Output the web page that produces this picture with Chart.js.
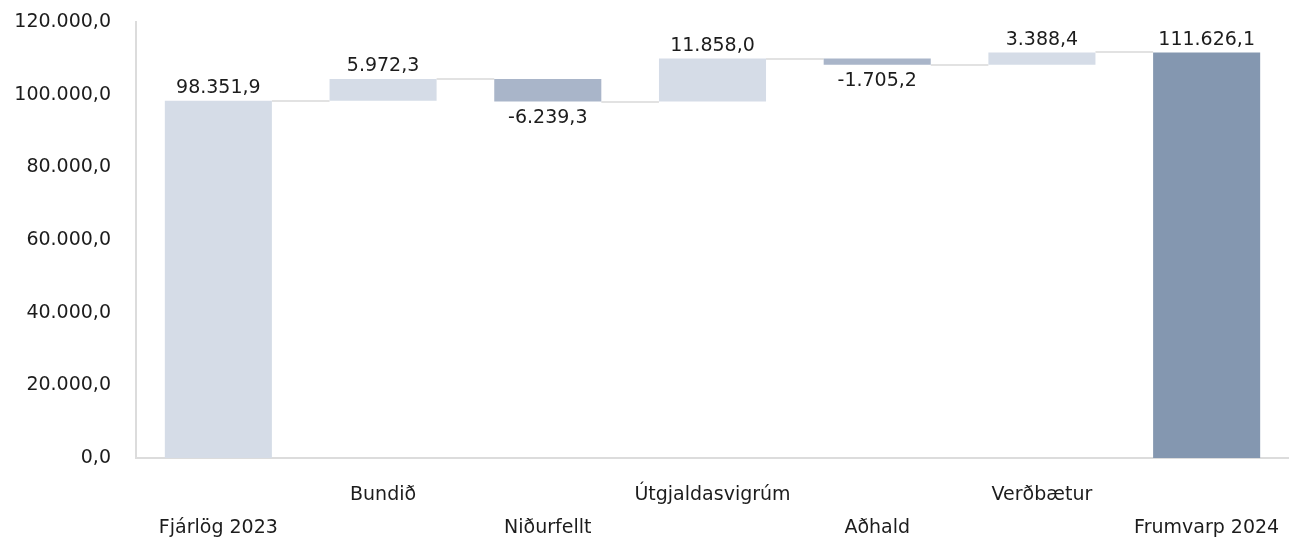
<!DOCTYPE html>
<html>
<head>
<meta charset="utf-8">
<script src="https://cdn.jsdelivr.net/npm/chart.js@4"></script>
<style>
  body { margin: 0; background: #fff; }
  #wrap { width: 1289px; height: 540px; }
</style>
</head>
<body>
<div id="wrap"><canvas id="chart"></canvas></div>
<script>
// categories and values (millj. kr.)
const categories = ['Fjárlög 2023', 'Bundið', 'Niðurfellt', 'Útgjaldasvigrúm', 'Aðhald', 'Verðbætur', 'Frumvarp 2024'];
const startTotal = 98351.9;
const changes = [5972.3, -6239.3, 11858.0, -1705.2, 3388.4];
const endTotal = 111626.1;
const yTicks = [0, 20000, 40000, 60000, 80000, 100000, 120000];

const colorTotal = '#d5dce7';
const colorUp = '#d5dce7';
const colorDown = '#a9b5c9';
const colorEnd = '#8497b0';

function fmt(v) {
  let sign = v < 0 ? '-' : '';
  let parts = Math.abs(v).toFixed(1).split('.');
  let int = parts[0].replace(/\B(?=(\d{3})+(?!\d))/g, '.');
  return sign + int + ',' + parts[1];
}

// floating bars
let ranges = [[0, startTotal]];
let labels = [startTotal];
let colors = [colorTotal];
let running = startTotal;
for (let i = 0; i < changes.length; i++) {
  let next = running + changes[i];
  ranges.push([Math.min(running, next), Math.max(running, next)]);
  labels.push(changes[i]);
  colors.push(changes[i] < 0 ? colorDown : colorUp);
  running = next;
}
ranges.push([0, endTotal]);
labels.push(endTotal);
colors.push(colorEnd);

// running level after each bar, for the connectors
let levels = [startTotal];
running = startTotal;
for (let i = 0; i < changes.length; i++) {
  running += changes[i];
  levels.push(running);
}

const FONT = '"DejaVu Sans", "Noto Sans", sans-serif';
const FSIZE = 19;

const connectors = {
  id: 'connectors',
  beforeDatasetsDraw(chart) {
    let ctx = chart.ctx;
    let meta = chart.getDatasetMeta(0);
    let y = chart.scales.y;
    ctx.save();
    ctx.strokeStyle = '#e2e2e2';
    ctx.lineWidth = 2;
    for (let i = 0; i < meta.data.length - 1; i++) {
      let a = meta.data[i], b = meta.data[i + 1];
      let py = Math.round(y.getPixelForValue(levels[i]));
      ctx.beginPath();
      ctx.moveTo(a.x + a.width / 2, py);
      ctx.lineTo(b.x - b.width / 2, py);
      ctx.stroke();
    }
    ctx.restore();
  }
};

const valueLabels = {
  id: 'valueLabels',
  afterDatasetsDraw(chart) {
    let ctx = chart.ctx;
    let meta = chart.getDatasetMeta(0);
    let y = chart.scales.y;
    ctx.save();
    ctx.font = FSIZE + 'px ' + FONT;
    ctx.fillStyle = '#1c1c1c';
    ctx.textAlign = 'center';
    meta.data.forEach((bar, i) => {
      let v = labels[i];
      if (v < 0) {
        ctx.textBaseline = 'top';
        ctx.fillText(fmt(v), bar.x, y.getPixelForValue(ranges[i][0]) + 7);
      } else {
        ctx.textBaseline = 'bottom';
        ctx.fillText(fmt(v), bar.x, y.getPixelForValue(ranges[i][1]) - 3);
      }
    });
    ctx.restore();
  }
};

new Chart(document.getElementById('chart'), {
  type: 'bar',
  data: {
    labels: categories,
    datasets: [{
      data: ranges,
      backgroundColor: colors,
      borderWidth: 0,
      barPercentage: 0.65,
      categoryPercentage: 1
    }]
  },
  options: {
    responsive: true,
    maintainAspectRatio: false,
    animation: false,
    layout: { padding: { top: 22, left: 0, right: 0, bottom: 0 } },
    plugins: {
      legend: { display: false },
      tooltip: { enabled: false }
    },
    scales: {
      x: {
        afterFit: (scale) => {
          scale.height = 82;
          scale.paddingLeft = 0;
          scale.paddingRight = 0;
        },
        grid: { display: false, drawTicks: false },
        border: { display: true, color: '#dcdcdc', width: 2 },
        ticks: {
          color: '#1c1c1c',
          font: { family: FONT, size: FSIZE, lineHeight: 33 / FSIZE },
          maxRotation: 0,
          autoSkip: false,
          padding: 21,
          callback: function (val, i) {
            let name = categories[i];
            return i % 2 === 1 ? [name, ''] : ['', name];
          }
        }
      },
      y: {
        min: 0,
        max: 120000,
        afterBuildTicks: (scale) => { scale.ticks = yTicks.map(v => ({ value: v })); },
        afterFit: (scale) => {
          scale.width = 136;
          scale.paddingTop = 0;
          scale.paddingBottom = 0;
        },
        grid: { display: false },
        border: { display: true, color: '#dcdcdc', width: 2 },
        ticks: {
          color: '#1c1c1c',
          padding: 17,
          font: { family: FONT, size: FSIZE },
          callback: (v) => fmt(v)
        }
      }
    }
  },
  plugins: [connectors, valueLabels]
});
</script>
</body>
</html>
